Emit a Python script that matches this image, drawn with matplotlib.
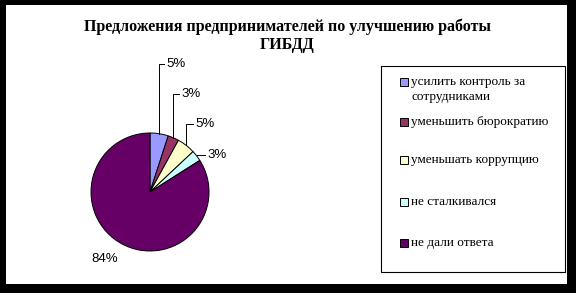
import matplotlib.pyplot as plt
from matplotlib.patches import Rectangle
import numpy as np

# данные опроса
categories = ['усилить контроль за\nсотрудниками', 'уменьшить бюрократию',
              'уменьшать коррупцию', 'не сталкивался', 'не дали ответа']
shares = [5, 3, 5, 3, 84]
colors = ['#9999FF', '#993366', '#FFFFCC', '#CCFFFF', '#660066']
title = 'Предложения предпринимателей по улучшению работы\nГИБДД'

W, H = 576, 293
fig = plt.figure(figsize=(W / 100, H / 100), dpi=100, facecolor='black')

# белое поле с черной рамкой/тенью
fig.patches.append(Rectangle((6 / W, (H - 284) / H), 561 / W, 279 / H,
                             transform=fig.transFigure, facecolor='white',
                             edgecolor='none', zorder=-1))

fig.text(287 / W, 1 - 36 / H, title, ha='center', va='center',
         family='Liberation Serif', fontweight='bold', fontsize=11.5,
         linespacing=1.15)

# круговая диаграмма, оси в пикселях
cx, cy, R, S = 150, 192, 59, 140
ax = fig.add_axes([(cx - S) / W, (H - cy - S) / H, 2 * S / W, 2 * S / H])
wedges, _ = ax.pie(shares, colors=colors, startangle=90, counterclock=False,
                   radius=R, wedgeprops=dict(edgecolor='black', linewidth=0.7))
ax.set_xlim(-S, S)
ax.set_ylim(-S, S)
ax.axis('off')

# подписи с выносками
label_pos = [(166, 64), (181, 94), (195, 124), (207, 155), (105, 259)]
for w, v, (lx, ly) in zip(wedges, shares, label_pos):
    ang = np.deg2rad((w.theta1 + w.theta2) / 2)
    ex, ey = R * np.cos(ang), R * np.sin(ang)
    tx, ty = lx - cx, cy - ly
    if v < 50:
        if ty - ey > 4:
            ax.plot([ex, ex, tx - 2], [ey, ty, ty], color='black', lw=0.7)
        else:
            ax.plot([ex, tx - 2], [ty, ty], color='black', lw=0.7)
        ax.text(tx, ty, f'{v}%', ha='left', va='center',
                family='Liberation Sans', fontsize=9.5)
    else:
        ax.text(tx, ty, f'{v}%', ha='center', va='center',
                family='Liberation Sans', fontsize=9.5)

# легенда
fig.patches.append(Rectangle((381 / W, (H - 272) / H), 184 / W, 206 / H,
                             transform=fig.transFigure, facecolor='white',
                             edgecolor='black', linewidth=0.8, zorder=1))
entry_y = [82, 122, 160, 202, 243]
for lab, col, y in zip(categories, colors, entry_y):
    fig.patches.append(Rectangle((400 / W, (H - y - 4) / H), 8 / W, 8 / H,
                                 transform=fig.transFigure, facecolor=col,
                                 edgecolor='black', linewidth=0.7, zorder=2))
    fig.text(411 / W, 1 - (y - 6) / H, lab, ha='left', va='top',
             family='Liberation Serif', fontsize=9.5, linespacing=1.35,
             zorder=3)

fig.savefig('out.png', dpi=100, facecolor='black')
